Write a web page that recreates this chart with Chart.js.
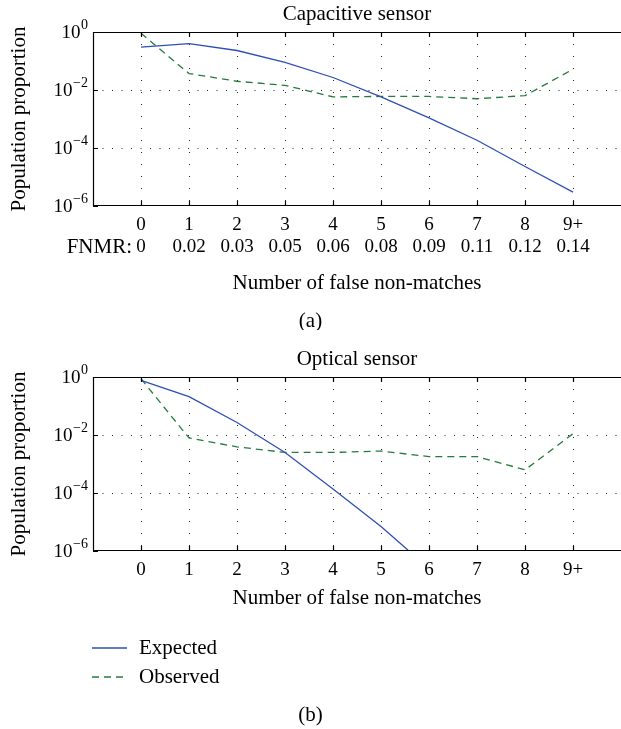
<!DOCTYPE html>
<html lang="en">
<head>
<meta charset="UTF-8">
<title>False non-matches per sensor</title>
<script src="https://cdn.jsdelivr.net/npm/chart.js"></script>
<style>
  body { margin: 0; background: #fff; width: 621px; height: 729px; overflow: hidden; position: relative; }
  canvas { position: absolute; left: 0; }
</style>
</head>
<body>
<canvas id="capChart" width="621" height="330" style="top:0"></canvas>
<canvas id="optChart" width="621" height="399" style="top:330px"></canvas>
<script>
// x categories and the FNMR row under the capacitive plot
const categories = ['0', '1', '2', '3', '4', '5', '6', '7', '8', '9+'];
const fnmrLabels = ['0', '0.02', '0.03', '0.05', '0.06', '0.08', '0.09', '0.11', '0.12', '0.14'];

// y decades shown on the log axis
const yTicks = [1, 1e-2, 1e-4, 1e-6];
const yExponents = ['0', '\u22122', '\u22124', '\u22126'];

// (a) capacitive sensor
const capExpected = [0.30, 0.40, 0.23, 0.09, 0.027, 0.0058, 0.0011, 1.85e-4, 2.3e-5, 3.0e-6];
const capObserved = [0.9, 0.037, 0.020, 0.0145, 0.0058, 0.0060, 0.0060, 0.0050, 0.0064, 0.052];

// (b) optical sensor
const optExpected = [0.76, 0.21, 0.027, 0.0025, 1.37e-4, 7e-6, 2.5e-7];
const optObserved = [0.87, 0.0079, 0.0039, 0.0025, 0.0025, 0.0028, 0.0018, 0.0018, 6.3e-4, 0.011];

const blue = '#2e4fb4';
const green = '#237c3e';
const serif = '"Liberation Serif", "Times New Roman", serif';

function points(arr) {
  return arr.map((v, i) => ({ x: i, y: v }));
}

function makeDecor(o) {
  return {
    id: 'decor',
    afterDraw(chart) {
      const { ctx, chartArea: a, scales: { x, y } } = chart;
      ctx.save();
      // frame: top, left, bottom (right edge is cut off)
      ctx.strokeStyle = '#000';
      ctx.lineWidth = 1.2;
      ctx.beginPath();
      ctx.moveTo(a.right, a.top + 0.5);
      ctx.lineTo(a.left + 0.5, a.top + 0.5);
      ctx.lineTo(a.left + 0.5, a.bottom - 0.5);
      ctx.lineTo(a.right, a.bottom - 0.5);
      categories.forEach((c, i) => {
        const px = Math.round(x.getPixelForValue(i)) + 0.5;
        ctx.moveTo(px, a.top); ctx.lineTo(px, a.top + 5);
        ctx.moveTo(px, a.bottom); ctx.lineTo(px, a.bottom - 5);
      });
      yTicks.forEach(v => {
        const py = Math.round(y.getPixelForValue(v)) + 0.5;
        ctx.moveTo(a.left, py); ctx.lineTo(a.left + 5, py);
      });
      ctx.stroke();

      ctx.fillStyle = '#000';
      ctx.textBaseline = 'middle';
      const nums = '19px ' + serif;
      const words = '21px ' + serif;
      const small = '14px ' + serif;

      // y tick labels 10^k
      yTicks.forEach((v, i) => {
        const py = y.getPixelForValue(v);
        ctx.font = small;
        const ew = ctx.measureText(yExponents[i]).width;
        ctx.textAlign = 'right';
        ctx.fillText(yExponents[i], 88, py - 7);
        ctx.font = nums;
        ctx.fillText('10', 88 - ew - 0.5, py + 1);
      });

      // x tick labels
      ctx.font = nums;
      ctx.textAlign = 'center';
      categories.forEach((c, i) => {
        ctx.fillText(c, x.getPixelForValue(i), a.bottom + 19);
      });
      if (o.fnmr) {
        fnmrLabels.forEach((c, i) => {
          ctx.fillText(c, x.getPixelForValue(i), a.bottom + 41);
        });
        ctx.font = words;
        ctx.textAlign = 'right';
        ctx.fillText('FNMR:', 132, a.bottom + 41);
        ctx.textAlign = 'center';
      }

      ctx.font = words;
      const midX = (a.left + a.right) / 2;
      ctx.fillText(o.title, midX, a.top - 18);
      ctx.fillText('Number of false non-matches', midX, a.bottom + o.xTitleGap);
      ctx.fillText(o.caption, chart.width / 2, o.captionY);

      // y axis title
      ctx.save();
      ctx.translate(19, (a.top + a.bottom) / 2);
      ctx.rotate(-Math.PI / 2);
      ctx.fillText('Population proportion', 0, 0);
      ctx.restore();

      // legend under the optical plot
      if (o.legend) {
        chart.data.datasets.forEach((ds, i) => {
          const ly = o.legendY + i * 29;
          ctx.strokeStyle = ds.borderColor;
          ctx.lineWidth = ds.borderWidth;
          ctx.setLineDash(ds.borderDash || []);
          ctx.beginPath();
          ctx.moveTo(92, ly); ctx.lineTo(127, ly);
          ctx.stroke();
          ctx.setLineDash([]);
          ctx.textAlign = 'left';
          ctx.fillText(ds.label, 139, ly);
        });
      }
      ctx.restore();
    }
  };
}

function makeChart(id, expected, observed, pad, o) {
  return new Chart(document.getElementById(id), {
    type: 'line',
    data: {
      datasets: [
        { label: 'Expected', data: points(expected), borderColor: blue, borderWidth: 1.3, pointRadius: 0, tension: 0 },
        { label: 'Observed', data: points(observed), borderColor: green, borderWidth: 1.3, borderDash: [7, 5], pointRadius: 0, tension: 0 }
      ]
    },
    options: {
      responsive: false,
      animation: false,
      layout: { padding: pad },
      plugins: { legend: { display: false }, tooltip: { enabled: false } },
      scales: {
        x: {
          type: 'linear', min: -1, max: 10,
          ticks: { display: false, stepSize: 1 },
          grid: {
            drawTicks: false,
            color: c => (c.tick && c.tick.value >= 0 && c.tick.value <= 9) ? '#222' : 'rgba(0,0,0,0)',
            lineWidth: 1
          },
          border: { display: false, dash: [1, 11] }
        },
        y: {
          type: 'logarithmic', min: 1e-6, max: 1,
          afterBuildTicks: s => { s.ticks = yTicks.map(v => ({ value: v })); },
          ticks: { display: false },
          grid: {
            drawTicks: false,
            color: c => (c.tick && c.tick.value < 0.5 && c.tick.value > 2e-6) ? '#222' : 'rgba(0,0,0,0)',
            lineWidth: 1
          },
          border: { display: false, dash: [1, 8.5] }
        }
      }
    },
    plugins: [makeDecor(o)]
  });
}

makeChart('capChart', capExpected, capObserved,
  { left: 93, top: 32, right: 0, bottom: 124 },
  { title: 'Capacitive sensor', fnmr: true, xTitleGap: 77, caption: '(a)', captionY: 321 });

makeChart('optChart', optExpected, optObserved,
  { left: 93, top: 47, right: 0, bottom: 178 },
  { title: 'Optical sensor', fnmr: false, xTitleGap: 47, caption: '(b)', captionY: 385, legend: true, legendY: 318 });
</script>
</body>
</html>
